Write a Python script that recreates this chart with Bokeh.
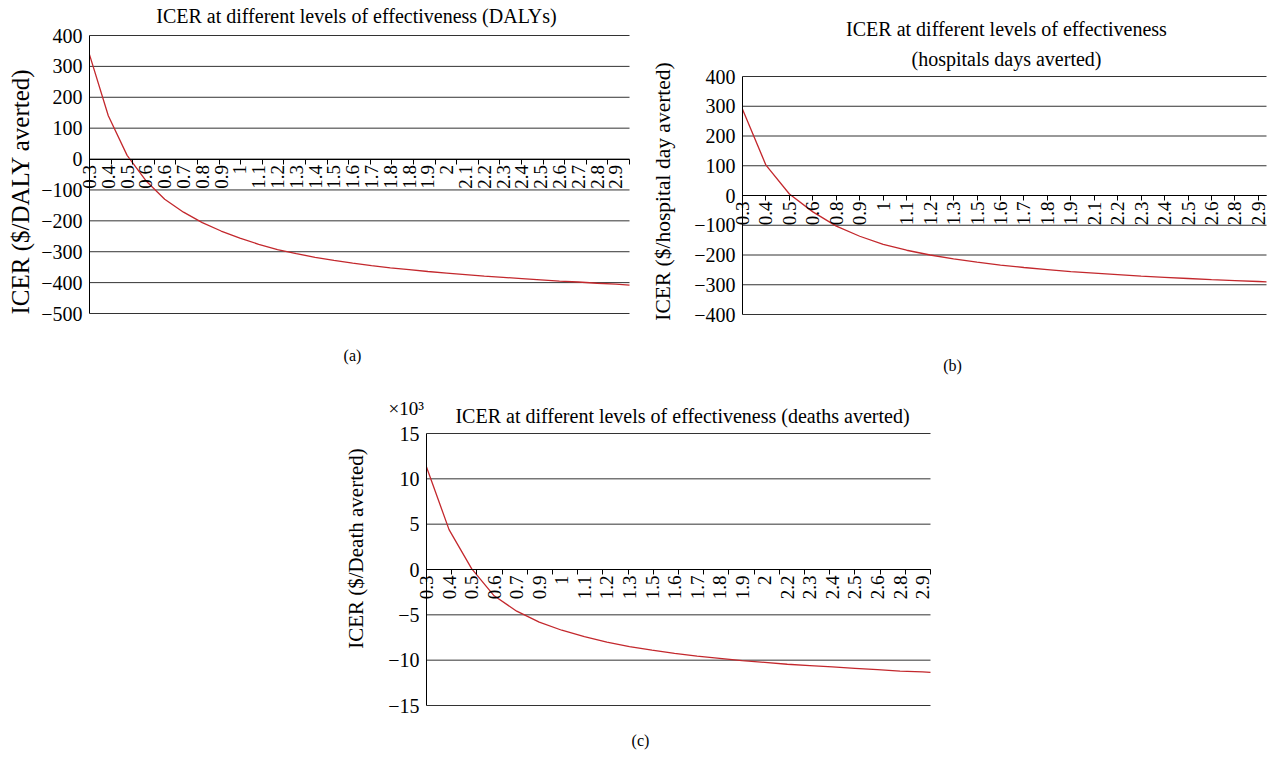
import math
from bokeh.plotting import figure
from bokeh.models import Range1d, FixedTicker
from bokeh.layouts import column, row
from bokeh.core.properties import value
from bokeh.embed import file_html
from bokeh.resources import INLINE

FONT = "Liberation Serif"
RED = "#c3282d"
GRID = "#333333"

# ---------------- data ----------------
# (a) ICER ($/DALY averted) at the labelled effectiveness categories
labels_a = ["0.3", "0.4", "0.5", "0.6", "0.6", "0.7", "0.8", "0.9", "1", "1.1",
            "1.2", "1.3", "1.4", "1.5", "1.6", "1.7", "1.8", "1.8", "1.9", "2",
            "2.1", "2.2", "2.3", "2.4", "2.5", "2.6", "2.7", "2.8", "2.9"]
icer_a = [338, 140, 12, -70, -130, -172, -206, -233, -256, -276,
          -293, -306, -318, -328, -337, -345, -352, -358, -364, -369,
          -374, -379, -383, -387, -391, -395, -398, -402, -405]
icer_a_end = -408
yticks_a = [400, 300, 200, 100, 0, -100, -200, -300, -400, -500]

# (b) ICER ($/hospital day averted)
labels_b = ["0.3", "0.4", "0.5", "0.6", "0.8", "0.9", "1", "1.1", "1.2", "1.3",
            "1.5", "1.6", "1.7", "1.8", "1.9", "2.1", "2.2", "2.3", "2.4", "2.5",
            "2.6", "2.8", "2.9"]
icer_b = [290, 102, 5, -55, -103, -137, -164, -184, -200, -213,
          -224, -234, -242, -249, -256, -261, -266, -271, -275, -279,
          -283, -286, -289]
icer_b_end = -290
yticks_b = [400, 300, 200, 100, 0, -100, -200, -300, -400]

# (c) ICER ($/Death averted), in thousands (x10^3)
labels_c = ["0.3", "0.4", "0.5", "0.6", "0.7", "0.9", "1", "1.1", "1.2", "1.3",
            "1.5", "1.6", "1.7", "1.8", "1.9", "2", "2.2", "2.3", "2.4", "2.5",
            "2.6", "2.8", "2.9"]
icer_c = [11.3, 4.4, 0.1, -2.9, -4.6, -5.8, -6.7, -7.4, -8.0, -8.5,
          -8.9, -9.25, -9.55, -9.8, -10.05, -10.25, -10.45, -10.6, -10.75, -10.9,
          -11.05, -11.2, -11.3]
icer_c_end = -11.35
yticks_c = [15, 10, 5, 0, -5, -10, -15]

title_a = "ICER at different levels of effectiveness (DALYs)"
title_b1 = "ICER at different levels of effectiveness"
title_b2 = "(hospitals days averted)"
title_c = "ICER at different levels of effectiveness (deaths averted)"
scale_c = "\u00d710\u00b3"


def fmt(v):
    return str(v).replace("-", "\u2212")


def make_panel(labels, icer, icer_end, yticks, box, axis_px, right_px, tick_px,
               label_step, texts, ylabel, ylabel_size, ylabel_pos,
               n_minor=None):
    """box: (left, top, width, height) of the figure in page pixels."""
    L0, T0, W, H = box
    t_top, t_bot = tick_px
    ymax, ymin = max(yticks), min(yticks)
    ppu = (t_bot - t_top) / (ymax - ymin)

    def px_x(px):
        return (px - axis_px) / label_step

    def px_y(py):
        return ymax + (t_top - py) / ppu

    x_end = px_x(right_px)
    p = figure(width=W, height=H,
               x_range=Range1d(px_x(L0), px_x(L0 + W)),
               y_range=Range1d(px_y(T0 + H), px_y(T0)),
               output_backend="svg", toolbar_location=None, title=None,
               min_border_left=0, min_border_right=0,
               min_border_top=0, min_border_bottom=0)
    p.outline_line_color = None
    p.background_fill_color = "white"
    p.border_fill_color = "white"
    p.xgrid.visible = False
    p.ygrid.visible = False

    # horizontal grid lines from the y axis to the right edge
    nt = len(yticks)
    p.segment(x0=[0] * nt, y0=yticks, x1=[x_end] * nt, y1=yticks,
              line_color=GRID, line_width=1)

    n = len(labels)
    xs = list(range(n)) + [x_end]
    ys = list(icer) + [icer_end]
    p.line(xs, ys, line_color=RED, line_width=1.3)

    # x axis crossing at y = 0
    xa = p.xaxis[0]
    xa.fixed_location = 0
    xa.bounds = (0, x_end)
    minor = [k * x_end / (n_minor - 1) for k in range(n_minor)] if n_minor else []
    xa.ticker = FixedTicker(ticks=list(range(n)), minor_ticks=minor)
    xa.major_label_overrides = {i: lab for i, lab in enumerate(labels)}
    xa.major_label_orientation = math.pi / 2
    xa.major_label_text_font = FONT
    xa.major_label_text_font_size = "19px"
    xa.major_label_text_color = "black"
    xa.major_label_standoff = 1
    xa.axis_line_color = "black"
    xa.major_tick_out = 5
    xa.major_tick_in = 0
    if n_minor:
        xa.major_tick_line_color = None
        xa.minor_tick_line_color = "black"
        xa.minor_tick_out = 5
        xa.minor_tick_in = 0
    else:
        xa.major_tick_line_color = "black"
        xa.minor_tick_line_color = None

    # y axis at x = 0
    ya = p.yaxis[0]
    ya.fixed_location = 0
    ya.bounds = (ymin, ymax)
    ya.ticker = FixedTicker(ticks=yticks, minor_ticks=[])
    ya.major_label_overrides = {t: fmt(t) for t in yticks}
    ya.major_tick_line_color = None
    ya.major_tick_out = 0
    ya.major_tick_in = 0
    ya.minor_tick_line_color = None
    ya.axis_line_color = "black"
    ya.major_label_text_font = FONT
    ya.major_label_text_font_size = "20px"
    ya.major_label_text_color = "black"
    ya.major_label_standoff = 7

    # y axis title
    p.text(x=[px_x(ylabel_pos[0])], y=[px_y(ylabel_pos[1])], text=[ylabel],
           angle=math.pi / 2, text_align="center", text_baseline="middle",
           text_font=value(FONT), text_font_size=ylabel_size, text_color="black")

    # titles, captions and notes
    for text, tx, ty, size, align in texts:
        p.text(x=[px_x(tx)], y=[px_y(ty)], text=[text], text_align=align,
               text_baseline="middle", text_font=value(FONT),
               text_font_size=size, text_color="black")
    return p


pa = make_panel(labels_a, icer_a, icer_a_end, yticks_a,
                box=(0, 0, 640, 384), axis_px=89, right_px=629, tick_px=(35, 313),
                label_step=18.8,
                texts=[(title_a, 356, 15, "20px", "center"),
                       ("(a)", 352, 355, "16px", "center")],
                ylabel="ICER ($/DALY averted)", ylabel_size="25px",
                ylabel_pos=(20, 191), n_minor=26)

pb = make_panel(labels_b, icer_b, icer_b_end, yticks_b,
                box=(640, 0, 634, 384), axis_px=742, right_px=1266, tick_px=(76, 314),
                label_step=23.45,
                texts=[(title_b1, 1006, 28, "20px", "center"),
                       (title_b2, 1006, 58, "20px", "center"),
                       ("(b)", 952, 365, "16px", "center")],
                ylabel="ICER ($/hospital day averted)", ylabel_size="21.5px",
                ylabel_pos=(662, 191))

pc = make_panel(labels_c, icer_c, icer_c_end, yticks_c,
                box=(330, 384, 610, 375), axis_px=426, right_px=930, tick_px=(433, 705),
                label_step=22.55,
                texts=[(title_c, 682, 415, "20px", "center"),
                       (scale_c, 388, 408, "19px", "left"),
                       ("(c)", 640, 740, "16px", "center")],
                ylabel="ICER ($/Death averted)", ylabel_size="21px",
                ylabel_pos=(355, 548), n_minor=21)
pc.margin = (0, 0, 0, 330)

layout = column(row(pa, pb), pc)
open("out.html", "w").write(file_html(layout, INLINE))
